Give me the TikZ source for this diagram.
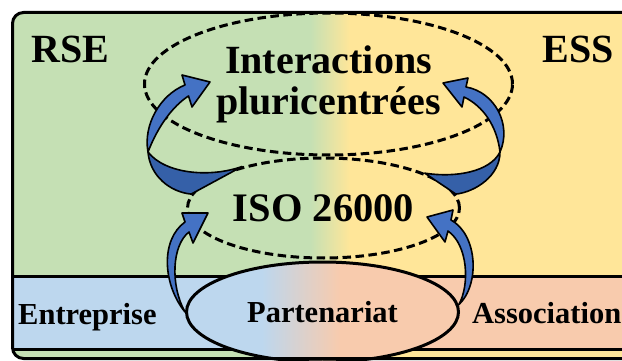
\documentclass[tikz,border=0pt]{standalone}
\usepackage{fontspec}
\setmainfont{Liberation Serif}
\usepackage{tikz}
\usetikzlibrary{shapes.geometric}

\definecolor{rsegreen}{HTML}{C5E0B4}
\definecolor{essyellow}{HTML}{FFE699}
\definecolor{firmblue}{HTML}{BDD7EE}
\definecolor{assocorange}{HTML}{F8CBAD}
\definecolor{arrowblue}{HTML}{4472C4}
\definecolor{arrowdark}{HTML}{3560A8}

% left colour, right colour, start and end of the blend
\newcommand{\twotone}[4]{%
  \fill[#1] (0,0) rectangle (#3,370);
  \shade[left color=#1,right color=#2] (#3,0) rectangle (#4,370);
  \fill[#2] (#4,0) rectangle (680,370);}

\begin{document}
\begin{tikzpicture}[x=1pt,y=-1pt,
	big text/.style={font=\fontsize{40}{41}\selectfont\bfseries},
	small text/.style={font=\fontsize{30.5}{32}\selectfont\bfseries},
	ring node/.style={ellipse,draw,line width=3pt,dash pattern=on 8.5pt off 4.5pt,
		inner sep=0pt,align=center},
	part node/.style={ellipse,draw,line width=3pt,inner sep=0pt,
		minimum width=272pt,minimum height=100pt},
	front arrow/.style={fill=arrowblue,draw=black,line width=1.6pt,line join=round},
	back arrow/.style={fill=arrowdark,draw=black,line width=1.6pt,line join=round}]
	
	\useasboundingbox (0,0) rectangle (622,361);
	
	% background and band
	\begin{scope}
		\clip[rounded corners=11pt] (12.5,12.5) rectangle (680,358.5);
		\twotone{rsegreen}{essyellow}{310}{350}
	\end{scope}
	\begin{scope}
		\clip (12.5,276) rectangle (680,349);
		\twotone{firmblue}{assocorange}{262}{340}
	\end{scope}
	\draw[line width=3pt] (12.5,276) -- (680,276) (12.5,349) -- (680,349);
	
	% ellipses
	\node[ring node,big text,minimum width=368pt,minimum height=142pt] (inter) at (328.5,84)
		{Interactions\\pluricentrées};
	\node[ring node,font=\fontsize{40.5}{42}\selectfont\bfseries,
		minimum width=272pt,minimum height=100pt] (iso) at (323.5,208) {ISO 26000};
	\begin{scope}
		\clip (322.5,312) ellipse [x radius=136, y radius=50];
		\twotone{firmblue}{assocorange}{262}{340}
	\end{scope}
	\node[part node,small text] (part) at (322.5,312) {Partenariat};
	
	% arrows
	\draw[front arrow] (part.west) .. controls (163,285) and (160,240) .. (185,222)
		-- (182,213) -- (208,213) -- (193,243) -- (189,232)
		.. controls (172,245) and (170,285) .. (part.west) -- cycle;
	\draw[front arrow] (part.3) .. controls (480,285) and (478,235) .. (451,220)
		-- (453,210) -- (427,217) -- (445,242) -- (448,231)
		.. controls (468,245) and (470,285) .. (part.3) -- cycle;
	
	\draw[back arrow] (148,152) .. controls (150,176) and (170,192) .. (iso.174)
		-- (iso.153) .. controls (210,178) and (165,174) .. (148,152) -- cycle;
	\draw[front arrow] (148,152) .. controls (143,125) and (160,95) .. (185,85)
		-- (182,75) -- (210,82) -- (192,107) -- (188.5,96)
		.. controls (173,106) and (158,126) .. (148,152) -- cycle;
	\draw[back arrow] (500,152) .. controls (500,176) and (475,192) .. (iso.6)
		-- (iso.19) .. controls (455,178) and (490,172) .. (500,152) -- cycle;
	\draw[front arrow] (466,87) .. controls (495,92) and (512,125) .. (500,152)
		.. controls (497,126) and (483,106) .. (464,97)
		-- (462,107) -- (443,83) -- (468,78) -- cycle;
	
	\draw[line width=3pt,rounded corners=11pt] (12.5,12.5) rectangle (680,358.5);
	
	% labels
	\node[big text,anchor=base west,inner sep=0pt] (rse) at (31,63) {RSE};
	\node[big text,anchor=base east,inner sep=0pt] (ess) at (614,63) {ESS};
	\node[small text,anchor=base west,inner sep=0pt] (firm) at (18,324) {Entreprise};
	\node[small text,anchor=base west,inner sep=0pt] (assoc) at (472,323) {Association};
\end{tikzpicture}
\end{document}
